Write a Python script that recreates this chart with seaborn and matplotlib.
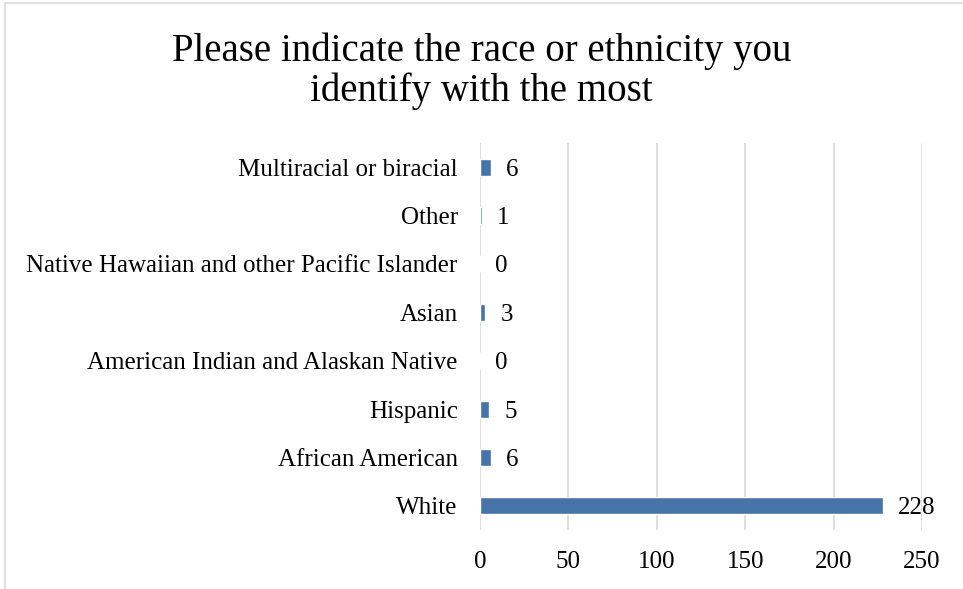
import numpy as np
import pandas as pd
import seaborn as sns
import matplotlib.pyplot as plt
from matplotlib.patches import Rectangle

# survey answers, top to bottom as shown in the chart
categories = ["Multiracial or biracial", "Other",
              "Native Hawaiian and other Pacific Islander", "Asian",
              "American Indian and Alaskan Native", "Hispanic",
              "African American", "White"]
counts = [6, 1, 0, 3, 0, 5, 6, 228]
x_ticks = [0, 50, 100, 150, 200, 250]

df = pd.DataFrame({"race": categories, "count": counts})

sns.set_style("white")
plt.rcParams['font.family'] = ['Liberation Serif', 'DejaVu Serif']
plt.rcParams['text.color'] = 'black'

fig = plt.figure(figsize=(9.63, 5.89), dpi=100)
ax = fig.add_axes([0.4984, 0.1002, 0.4590, 0.657])

sns.barplot(data=df, x="count", y="race", order=categories, color="#4674A8",
            width=0.35, saturation=1, ax=ax)

# value labels just right of each bar, centred on the bar
for bar, val in zip(ax.patches, counts):
    ax.annotate(str(val), (bar.get_width(), bar.get_y() + bar.get_height() / 2),
                xytext=(11, 0), textcoords="offset points",
                ha="left", va="center_baseline", fontsize=18, color="black")

ax.set_xlim(0, 250)
ax.set_xticks(x_ticks)
ax.set_ylim(len(categories) - 0.5, -0.5)
ax.grid(axis='x', color="#D9D9D9", linewidth=1.2)
ax.set_axisbelow(True)
for s in ax.spines.values():
    s.set_visible(False)
ax.tick_params(axis='both', length=0, labelsize=18, colors="black")
ax.tick_params(axis='y', pad=16)
ax.tick_params(axis='x', pad=15)
ax.set_xlabel("")
ax.set_ylabel("")

fig.suptitle("Please indicate the race or ethnicity you\nidentify with the most",
             fontsize=28, y=0.945, linespacing=1.1, color="black")

# thin chart-area border like the original export
fig.patches.append(Rectangle((0.005, -0.01), 1.0, 1.005, transform=fig.transFigure,
                             fill=False, edgecolor="#D9D9D9", linewidth=1.2))

fig.savefig("out.png", dpi=100)
